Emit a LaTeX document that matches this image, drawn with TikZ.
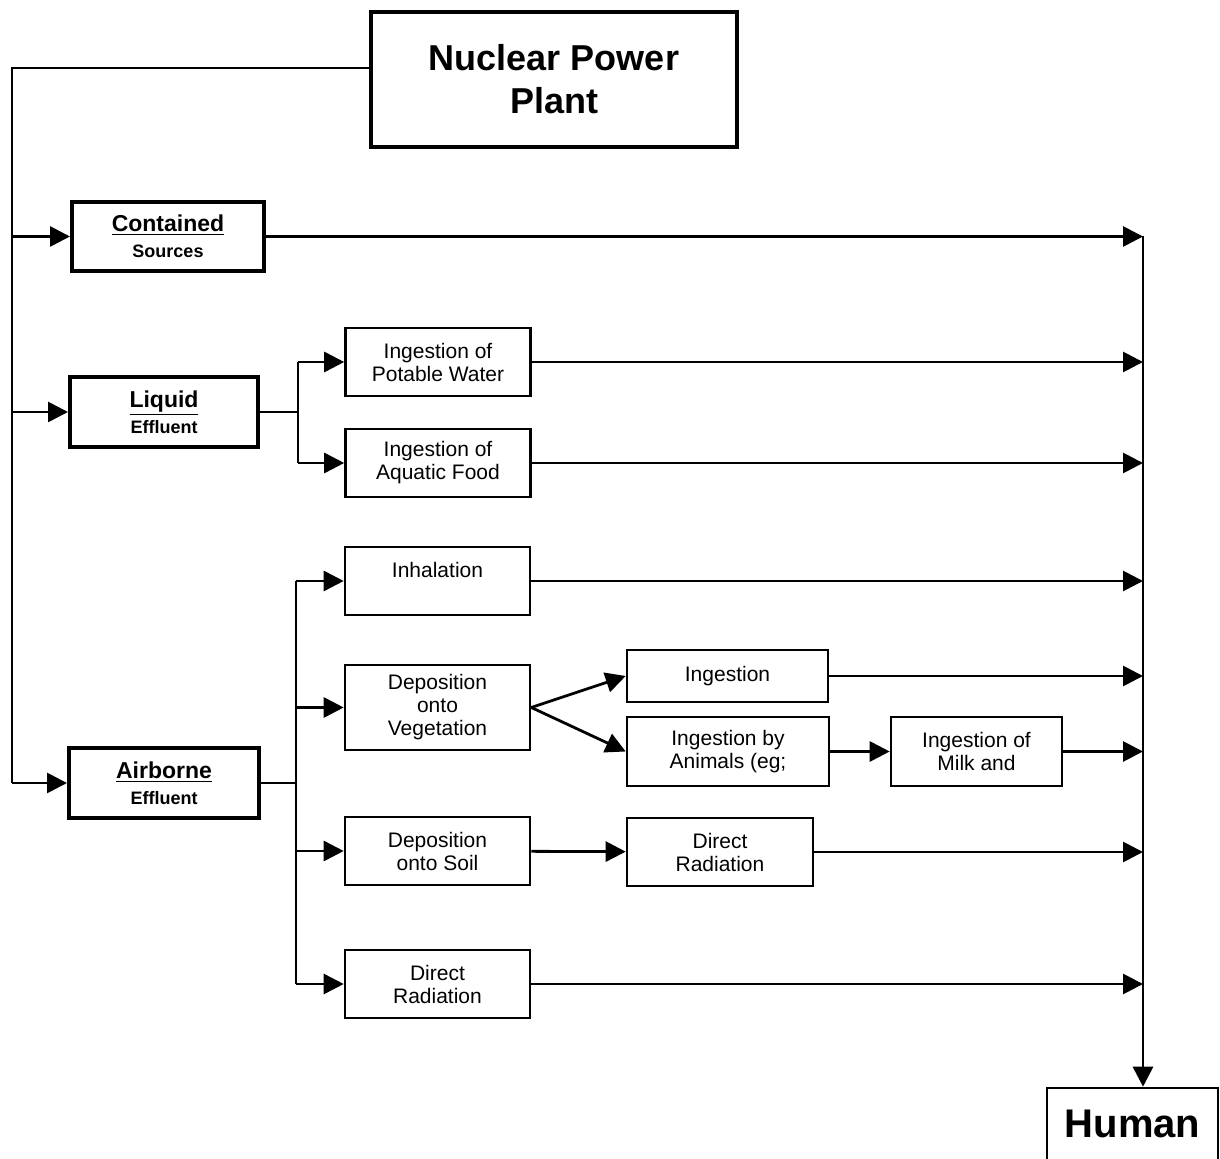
\documentclass[tikz,border=0pt]{standalone}
\usepackage{fontspec}
\setmainfont{Liberation Sans}
\usetikzlibrary{arrows.meta}
\tikzset{%
  toarrow/.style = {-{Triangle[length=10pt,width=10pt]},line width=1.4pt},
  plainline/.style = {line width=1.4pt},
  b/.style = {rectangle,draw,line width=1.3pt,inner sep=0pt,align=center,
        minimum width=92.5pt,minimum height=34pt,
        font=\fontsize{10.5}{11.5}\selectfont},
  tb/.style = {rectangle,draw,line width=2pt,inner sep=0pt,align=center,
        minimum width=95pt,minimum height=35pt,
        font=\bfseries\fontsize{11.5}{13}\selectfont}
}
\newcommand{\subline}[1]{{\fontsize{9}{10}\selectfont #1}}

\begin{document}
\begin{tikzpicture}[x=0.5pt,y=-0.5pt]
\useasboundingbox (0,0) rectangle (1220,1159);
% sources
\node[tb,minimum width=183pt,minimum height=67.5pt,
      font=\bfseries\fontsize{18}{21.5}\selectfont] (npp) at (554,79.5) {Nuclear Power\\Plant};
\node[tb,minimum width=96pt,minimum height=34.5pt] (cont) at (168,236.5) {\underline{Contained}\\\subline{Sources}};
\node[tb,minimum width=94pt] (liq) at (164,412) {\underline{Liquid}\\\subline{Effluent}};
\node[tb] (air) at (164,783) {\underline{Airborne}\\\subline{Effluent}};
% pathways
\node[b] (pot) at (438,362) {Ingestion of\\Potable Water};
\node[b] (aqu) at (438,463) {Ingestion of\\Aquatic Food};
\node[b] (inh) at (437.5,581) {Inhalation\\\mbox{}};
\node[b,minimum height=42.5pt] (veg) at (437.5,707.5) {Deposition\\onto\\Vegetation};
\node[b] (soil) at (437.5,851) {Deposition\\onto Soil};
\node[b] (dir) at (437.5,984) {Direct\\Radiation};
\node[b,minimum width=100.5pt,minimum height=26pt] (ing) at (727.5,676) {Ingestion};
\node[b,minimum width=101pt,minimum height=34.5pt] (anim) at (728,751.5) {Ingestion by\\Animals (eg;};
\node[b,minimum width=85.5pt,minimum height=34.5pt] (milk) at (976.5,751.5) {Ingestion of\\Milk and};
\node[b,minimum width=93pt] (rad) at (720,852) {Direct\\Radiation};
\node[b,minimum width=85.5pt,minimum height=36pt,
      font=\bfseries\fontsize{20}{24}\selectfont] (human) at (1132.5,1124) {Human};
% junctions
\coordinate (t0) at (12,68);
\coordinate (bus) at (1143,243);
\coordinate (lq) at (298,410);
\coordinate (ab) at (296,783);
% left trunk
\draw[plainline] (npp.west |- t0) -- (t0) -- (t0 |- air);
\draw[toarrow] (t0 |- cont) -- (cont);
\draw[toarrow] (t0 |- liq) -- (liq);
\draw[toarrow] (t0 |- air) -- (air);
% liquid branch
\draw[plainline] (liq) -- (liq -| lq);
\draw[plainline] (lq |- pot) -- (lq |- aqu);
\draw[toarrow] (lq |- pot) -- (pot);
\draw[toarrow] (lq |- aqu) -- (aqu);
% airborne branch
\draw[plainline] (air) -- (air -| ab);
\draw[plainline] (ab |- inh) -- (ab |- dir);
\draw[toarrow] (ab |- inh) -- (inh);
\draw[toarrow] (ab |- veg) -- (veg);
\draw[toarrow] (ab |- soil) -- (soil);
\draw[toarrow] (ab |- dir) -- (dir);
\draw[toarrow] (veg.east) -- (ing.west);
\draw[toarrow] (veg.east) -- (anim.west);
\draw[toarrow] (anim) -- (milk);
\draw[toarrow] (soil) -- (rad);
% to the human
\draw[toarrow] (cont) -- (cont -| bus);
\draw[toarrow] (pot) -- (pot -| bus);
\draw[toarrow] (aqu) -- (aqu -| bus);
\draw[toarrow] (inh) -- (inh -| bus);
\draw[toarrow] (ing) -- (ing -| bus);
\draw[toarrow] (milk) -- (milk -| bus);
\draw[toarrow] (rad) -- (rad -| bus);
\draw[toarrow] (dir) -- (dir -| bus);
\draw[toarrow] (bus |- cont) -- (bus |- human.north);
\end{tikzpicture}
\end{document}
